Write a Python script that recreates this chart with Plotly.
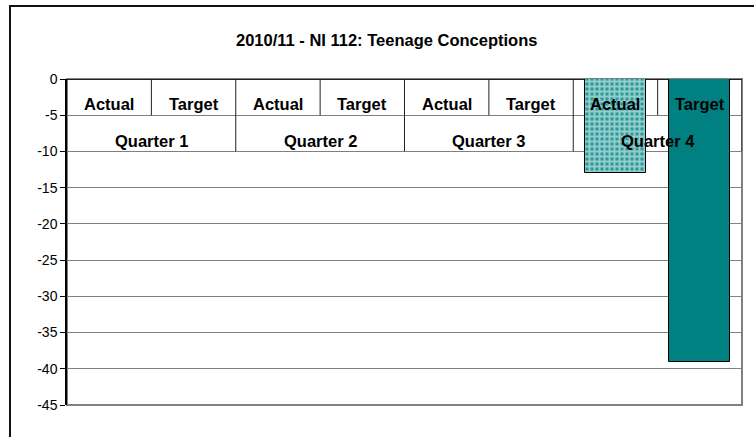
import plotly.graph_objects as go

title = "2010/11 - NI 112: Teenage Conceptions"
quarters = ["Quarter 1", "Quarter 2", "Quarter 3", "Quarter 4"]
kinds = ["Actual", "Target"]
actual = [0, 0, 0, -13]
target = [0, 0, 0, -39]
y_ticks = [0, -5, -10, -15, -20, -25, -30, -35, -40, -45]

W, H = 754, 437
L, R, T, B = 67, 12, 79, 32
pw, ph = W - L - R, H - T - B

n = len(quarters) * len(kinds)
x_actual = [i * len(kinds) + 0 for i in range(len(quarters))]
x_target = [i * len(kinds) + 1 for i in range(len(quarters))]

fig = go.Figure()
fig.add_trace(go.Bar(
    x=x_actual, y=actual, width=0.72, name="Actual",
    marker=dict(color="#008080", line=dict(color="black", width=1),
                pattern=dict(shape="+", bgcolor="#2a9a9a", fgcolor="white",
                             size=5, solidity=0.62)),
))
fig.add_trace(go.Bar(
    x=x_target, y=target, width=0.72, name="Target",
    marker=dict(color="#008080", line=dict(color="black", width=1)),
))

font = "Arial, Liberation Sans, sans-serif"
annotations = []
for qi, q in enumerate(quarters):
    for ki, k in enumerate(kinds):
        annotations.append(dict(x=qi * len(kinds) + ki, y=-3.5, xref="x", yref="y",
                                text="<b>%s</b>" % k, showarrow=False,
                                font=dict(family=font, size=16.5, color="black"),
                                xanchor="center", yanchor="middle"))
    annotations.append(dict(x=qi * len(kinds) + 0.5, y=-8.5, xref="x", yref="y",
                            text="<b>%s</b>" % q, showarrow=False,
                            font=dict(family=font, size=16.5, color="black"),
                            xanchor="center", yanchor="middle"))
annotations.append(dict(x=(386 - L) / pw, y=((H - B) - 40) / ph, xref="paper", yref="paper",
                        text="<b>%s</b>" % title, showarrow=False,
                        font=dict(family=font, size=16.5, color="black"),
                        xanchor="center", yanchor="middle"))

shapes = []
# plot area border (gray)
shapes.append(dict(type="rect", xref="paper", yref="paper", x0=0, x1=1, y0=0, y1=1,
                   line=dict(color="#808080", width=2), layer="below"))
# category table separators
for qi in range(len(quarters)):
    xs = qi * len(kinds) + 0.5
    shapes.append(dict(type="line", xref="x", yref="y", x0=xs, x1=xs, y0=0, y1=-5,
                       line=dict(color="#222222", width=1), layer="above"))
    xq = qi * len(kinds) + len(kinds) - 0.5
    shapes.append(dict(type="line", xref="x", yref="y", x0=xq, x1=xq, y0=0, y1=-10,
                       line=dict(color="#222222", width=1), layer="above"))
# outer chart border
shapes.append(dict(type="rect", xref="paper", yref="paper",
                   x0=(10 - L) / pw, x1=(W + 20 - L) / pw,
                   y0=-(H + 20 - (H - B)) / ph, y1=((H - B) - 6) / ph,
                   line=dict(color="#111111", width=2), layer="below"))

fig.update_layout(
    width=W, height=H,
    margin=dict(l=L, r=R, t=T, b=B),
    paper_bgcolor="white", plot_bgcolor="white",
    showlegend=False, bargap=0,
    font=dict(family=font, color="black"),
    annotations=annotations, shapes=shapes,
)
fig.update_xaxes(range=[-0.5, n - 0.5], showgrid=False, zeroline=False,
                 showticklabels=False, ticks="", showline=False, fixedrange=True)
fig.update_yaxes(range=[-45, 0], tickvals=y_ticks, ticktext=[str(v) for v in y_ticks],
                 showgrid=True, gridcolor="#808080", gridwidth=1,
                 zeroline=True, zerolinecolor="#222222", zerolinewidth=1,
                 showline=True, linecolor="black", linewidth=1.5,
                 ticks="outside", ticklen=5, tickcolor="black",
                 tickfont=dict(family=font, size=14, color="black"),
                 fixedrange=True)

fig.write_html("out.html", config={"displayModeBar": False},
               post_script="document.body.style.margin='0';")
